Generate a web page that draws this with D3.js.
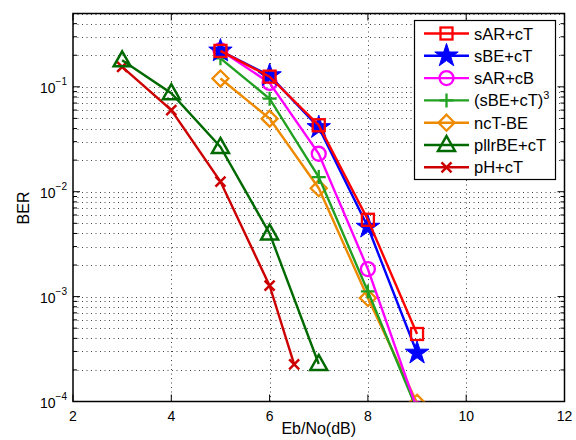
<!DOCTYPE html>
<html>
<head>
<meta charset="utf-8">
<script src="https://cdn.jsdelivr.net/npm/d3@7"></script>
<style>
body { margin: 0; background: #fff; }
text { font-family: "Liberation Sans", Arial, sans-serif; }
</style>
</head>
<body>
<div id="chart"></div>
<script>
// data
var xsB = [5, 6, 7, 8, 9]
var xsP = [3, 4, 5, 6, 7]
var xsH = [3, 4, 5, 6, 6.5]
var sARcT = [0.22, 0.125, 0.043, 0.0054, 0.00044]
var sBEcT = [0.22, 0.128, 0.041, 0.0046, 0.00029]
var sARcB = [0.223, 0.109, 0.023, 0.00183, 0.000085]
var sBEcT3 = [0.187, 0.077, 0.0138, 0.00112, 0.000083]
var ncTBE = [0.12, 0.0497, 0.0108, 0.00097, 0.000097]
var pllrBEcT = [0.179, 0.087, 0.0267, 0.0040, 0.000228]
var pHcT = [0.155, 0.06, 0.0125, 0.00127, 0.000226]
var xTicks = [2, 4, 6, 8, 10, 12]
var yDecades = [-4, -3, -2, -1]

var series = [
  {name: "sAR+cT", x: xsB, y: sARcT, color: "#ff0000", marker: "square"},
  {name: "sBE+cT", x: xsB, y: sBEcT, color: "#0000ff", marker: "star"},
  {name: "sAR+cB", x: xsB, y: sARcB, color: "#ff00ff", marker: "circle"},
  {name: "(sBE+cT)", sup: "3", x: xsB, y: sBEcT3, color: "#22a022", marker: "plus"},
  {name: "ncT-BE", x: xsB, y: ncTBE, color: "#ee8a00", marker: "diamond"},
  {name: "pllrBE+cT", x: xsP, y: pllrBEcT, color: "#006a00", marker: "triangle"},
  {name: "pH+cT", x: xsH, y: pHcT, color: "#cc0000", marker: "cross"}
]

var width = 576, height = 440
var m = {left: 73, right: 11.5, top: 13.5, bottom: 38.5}

var svg = d3.select("#chart").append("svg")
  .attr("width", width).attr("height", height)

var x = d3.scaleLinear().domain([2, 12]).range([m.left, width - m.right])
var y = d3.scaleLog().domain([1e-4, 0.5]).range([height - m.bottom, m.top])

svg.append("defs").append("clipPath").attr("id", "clip")
  .append("rect")
  .attr("x", m.left).attr("y", m.top)
  .attr("width", width - m.left - m.right)
  .attr("height", height - m.top - m.bottom)

// minor values in each decade
var minor = []
yDecades.forEach(function(d) {
  for (var k = 1; k <= 9; k++) {
    var v = k * Math.pow(10, d)
    if (v <= 0.5) minor.push(v)
  }
})

var grid = svg.append("g")
grid.selectAll(".hg").data(minor.filter(function(v){ return v > 1e-4 }))
  .enter().append("line")
  .attr("x1", m.left).attr("x2", width - m.right)
  .attr("y1", function(d){ return Math.round(y(d)) + 0.5 })
  .attr("y2", function(d){ return Math.round(y(d)) + 0.5 })
  .style("stroke", "#444").style("stroke-width", 1)
  .style("stroke-dasharray", "1,3.5")
grid.selectAll(".vg").data([4, 6, 8, 10])
  .enter().append("line")
  .attr("x1", function(d){ return Math.round(x(d)) + 0.5 })
  .attr("x2", function(d){ return Math.round(x(d)) + 0.5 })
  .attr("y1", m.top).attr("y2", height - m.bottom)
  .style("stroke", "#444").style("stroke-width", 1)
  .style("stroke-dasharray", "1,3.5")

// axes box and ticks
var axis = svg.append("g").style("stroke", "#000")
axis.append("rect")
  .attr("x", m.left).attr("y", m.top)
  .attr("width", width - m.left - m.right)
  .attr("height", height - m.top - m.bottom)
  .style("fill", "none").style("stroke-width", 1.5)

axis.selectAll(".yt").data(minor).enter().append("g")
  .each(function(v) {
    var major = yDecades.indexOf(Math.round(Math.log10(v) * 1000) / 1000) >= 0
    var len = major ? 7 : 4
    var yy = y(v)
    d3.select(this).append("line").attr("x1", m.left).attr("x2", m.left + len)
      .attr("y1", yy).attr("y2", yy)
    d3.select(this).append("line").attr("x1", width - m.right).attr("x2", width - m.right - len)
      .attr("y1", yy).attr("y2", yy)
  })
axis.selectAll(".xt").data(xTicks).enter().append("g")
  .each(function(v) {
    d3.select(this).append("line").attr("x1", x(v)).attr("x2", x(v))
      .attr("y1", height - m.bottom).attr("y2", height - m.bottom - 7)
    d3.select(this).append("line").attr("x1", x(v)).attr("x2", x(v))
      .attr("y1", m.top).attr("y2", m.top + 7)
  })

// tick labels
svg.selectAll(".xl").data(xTicks).enter().append("text")
  .attr("x", function(d){ return x(d) }).attr("y", height - m.bottom + 19)
  .attr("text-anchor", "middle").style("font-size", "14px")
  .text(function(d){ return d })

var yl = svg.selectAll(".yl").data(yDecades).enter().append("text")
  .attr("x", m.left - 6).attr("y", function(d){ return y(Math.pow(10, d)) + 6 })
  .attr("text-anchor", "end").style("font-size", "14px")
yl.append("tspan").text("10")
yl.append("tspan").attr("dy", -8).style("font-size", "10px")
  .text(function(d){ return "\u2212" + (-d) })

svg.append("text").attr("x", (m.left + width - m.right) / 2).attr("y", 434)
  .attr("text-anchor", "middle").style("font-size", "16px").text("Eb/No(dB)")
svg.append("text").attr("transform", "translate(29," + 208 + ") rotate(-90)")
  .attr("text-anchor", "middle").style("font-size", "16px").text("BER")

// markers
function drawMarker(g, type, color) {
  if (type == "square") {
    g.append("rect").attr("x", -6).attr("y", -6).attr("width", 12).attr("height", 12)
      .style("fill", "none").style("stroke", color).style("stroke-width", 2.3)
  } else if (type == "star") {
    g.append("path").attr("d", d3.symbol().type(d3.symbolStar).size(170)())
      .style("fill", color).style("stroke", color).style("stroke-width", 1)
  } else if (type == "circle") {
    g.append("circle").attr("r", 7)
      .style("fill", "none").style("stroke", color).style("stroke-width", 2.3)
  } else if (type == "plus") {
    g.append("path").attr("d", "M-7,0H7M0,-7V7")
      .style("fill", "none").style("stroke", color).style("stroke-width", 2.3)
  } else if (type == "diamond") {
    g.append("path").attr("d", "M0,-8L8,0L0,8L-8,0Z")
      .style("fill", "none").style("stroke", color).style("stroke-width", 2.3)
  } else if (type == "triangle") {
    g.append("path").attr("d", "M0,-9L8.5,6L-8.5,6Z")
      .style("fill", "none").style("stroke", color).style("stroke-width", 2.5)
  } else if (type == "cross") {
    g.append("path").attr("d", "M-5,-5L5,5M-5,5L5,-5")
      .style("fill", "none").style("stroke", color).style("stroke-width", 2.5)
  }
}

var line = d3.line().x(function(d){ return x(d[0]) }).y(function(d){ return y(d[1]) })
var plot = svg.append("g").attr("clip-path", "url(#clip)")

series.slice().reverse().forEach(function(s) {
  var pts = s.x.map(function(v, i){ return [v, s.y[i]] })
  plot.append("path").datum(pts).attr("d", line)
    .style("fill", "none").style("stroke", s.color).style("stroke-width", 2.4)
  plot.selectAll(null).data(pts).enter().append("g")
    .attr("transform", function(d){ return "translate(" + x(d[0]) + "," + y(d[1]) + ")" })
    .each(function(){ drawMarker(d3.select(this), s.marker, s.color) })
})

// legend
var lg = svg.append("g")
lg.append("rect").attr("x", 414.5).attr("y", 20.5).attr("width", 141).attr("height", 159)
  .style("fill", "#fff").style("stroke", "#000").style("stroke-width", 1.2)
series.forEach(function(s, i) {
  var yy = 33.5 + i * 22.3
  var e = lg.append("g")
  e.append("line").attr("x1", 424).attr("x2", 469).attr("y1", yy).attr("y2", yy)
    .style("stroke", s.color).style("stroke-width", 2.4)
  drawMarker(e.append("g").attr("transform", "translate(446.5," + yy + ")"), s.marker, s.color)
  var t = e.append("text").attr("x", 474).attr("y", yy + 6).style("font-size", "16.5px").text(s.name)
  if (s.sup) t.append("tspan").attr("dy", -7).style("font-size", "11px").text(s.sup)
})
</script>
</body>
</html>
